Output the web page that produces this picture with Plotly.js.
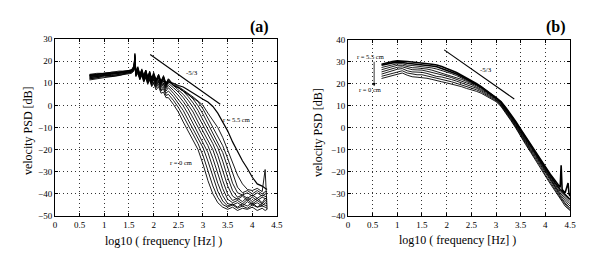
<!DOCTYPE html>
<html><head><meta charset="utf-8">
<script src="https://cdn.plot.ly/plotly-3.0.1.min.js"></script>
<style>html,body{margin:0;padding:0;background:#fff}#plot{width:609px;height:273px}</style>
</head><body><div id="plot"></div>
<script>
// ---------- Panel (a) ----------
const xa = [0.7,0.85,1.0,1.15,1.3,1.45,1.55,1.6,1.62,1.64,1.68,1.72,1.76,1.8,1.84,1.88,1.92,1.96,2.0,2.05,2.1,2.15,2.2,2.25,2.3,
            2.4,2.5,2.6,2.7,2.8,2.9,3.0,3.1,3.2,3.3,3.4,3.5,3.6,3.7,3.8,3.9,4.0,4.1,4.2,4.26,4.3];
const a_r0  = [11.5,12,12.5,13,13.5,14,14.5,15.5,18,13,14.5,11.5,13.5,10.5,12.5,9.5,11.5,8.5,10,7,8.5,5.5,6,3.5,3.5,
               0.5,-3,-7.5,-11.5,-15.5,-20,-26.5,-34,-40,-44,-46,-47,-46,-47.5,-46.5,-47,-46,-47.5,-46.5,-47.5,-47];
const a_r1  = [12,12.5,13,13,13.5,14.5,15,16,19,13.5,15,12,14,11,13,10,12,9,10.5,8,9.5,6.5,7.5,4.5,5,
               2.3,-0.9,-4.8,-9.1,-13.1,-17.3,-22.6,-29.5,-36.4,-41.6,-44.8,-46,-45,-46.5,-45.5,-46.5,-45,-46,-45.5,-46,-46.5];
const a_r2  = [12,12.5,13.5,13.5,14,14.5,15,16,20,13.5,15.5,12,14.5,11,13.5,10.5,12.5,9.5,11.5,8.5,10.5,7,8.5,5.5,6.5,
               4,1.1,-2.3,-6.6,-10.7,-14.7,-19.1,-25.2,-32.5,-38.8,-43.2,-45.5,-44.5,-46,-44.5,-45.5,-44,-46,-44.5,-45,-45.5];
const a_r3  = [12.5,13,13.5,13.5,14,14.5,15,16.5,21,14,15.5,12.5,14.5,11.5,14,11,13,10,12,9,11,8,9.5,6.5,8,
               5.5,2.9,-0.2,-3.9,-8.3,-12.3,-16.4,-21.3,-28,-35.2,-40.8,-44.4,-45,-44,-45.5,-43.5,-45,-44,-45.5,-44,-44.5];
const a_r4  = [12.5,13,13.5,14,14.5,15,15.5,16.5,22,14,16,12.5,15,12,14.5,11.5,13.5,10.5,12.5,9.5,11.5,8.5,10,7.5,9,
               6.8,4.5,1.7,-1.6,-5.7,-9.9,-13.9,-18.2,-23.9,-31,-37.6,-42.4,-44,-43,-44.5,-42.5,-44.5,-43,-44.5,-43,-43.5];
const a_r5  = [13,13,14,14,14.5,15,15.5,17,23,14.5,16,13,15,12,15,11.5,14,11,13,10,12.5,9,11,8,10,
               8,6,3.5,0.5,-3,-7.5,-11.5,-15.5,-20,-26.5,-34,-40,-43,-42,-43.5,-41.5,-43.5,-42,-44,-42,-42.5];
const a_r6  = [13,13.5,14,14.5,14.5,15,15.5,17,23.5,14.5,16.5,13,15.5,12.5,15,12,14.5,11,13.5,10.5,13,9.5,12,8.5,11,
               9,7.2,5,2.3,-0.9,-4.8,-9.1,-13.1,-17.3,-22.6,-29.5,-36.4,-41,-42.5,-41,-43,-41.5,-43,-41.5,-42,-42.5];
const a_r7  = [13.5,13.5,14,14.5,15,15,16,17,22.5,15,16.5,13.5,15.5,12.5,15.5,12,14.5,11.5,14,11,13,10,12.5,9,11,
               9,8,6.4,4,1.1,-2.3,-6.6,-10.7,-14.7,-19.1,-25.2,-32.5,-38.5,-41.5,-40.5,-42,-40.5,-42,-40.5,-41,-41.5];
const a_r8  = [13.5,14,14.5,14.5,15,15.5,16,17.5,21.5,15,17,13.5,16,13,15.5,12.5,15,11.5,14,11,13.5,10,13,9.5,11.5,
               9,8,6.5,5,2.9,-0.2,-3.9,-8.3,-12.3,-16.4,-21.3,-28,-35.2,-39.5,-40.5,-39.5,-41,-39.5,-41,-40,-40];
const a_r9  = [14,14,14.5,15,15,15.5,16,17.5,20.5,15.5,17,14,16,13,16,12.5,15,12,14.5,11.5,14,10.5,13,9.5,12,
               9,8,6.5,5,3.5,1.7,-1.6,-5.7,-9.9,-13.9,-18.2,-23.9,-31,-37,-39.5,-38.5,-40,-38.5,-40,-39,-39];
const a_r10 = [14,14.5,14.5,15,15.5,15.5,16,18,20,15.5,17.5,14,16.5,13.5,16,13,15.5,12,15,11.5,14,11,13.5,10,12,
               9.5,8.5,7,5.5,3.8,2,0,-3.5,-6.5,-10,-14.5,-20,-26,-31.5,-35.5,-38,-38.5,-37.5,-39,-29,-47];
const a_r11 = [13.5,14,14.5,14.5,15,15.5,15.5,16.5,19,15,15,14.5,14.5,14,13.5,13.5,13,13,12.5,12,12,11.5,11,10.5,10.5,
               10,9,8.3,7,5.5,4,2.8,1.5,-0.5,-3.5,-7.5,-11.5,-16.5,-21,-25,-28.5,-32.5,-35.5,-36.5,-37.5,-38];
const seriesA = [a_r0,a_r1,a_r2,a_r3,a_r4,a_r5,a_r6,a_r7,a_r8,a_r9,a_r10,a_r11];
const slopeA_x = [1.93, 3.35];
const slopeA_y = [23, 0.5];

// ---------- Panel (b) ----------
const xb = [0.68,0.8,0.9,1.0,1.1,1.2,1.3,1.4,1.5,1.6,1.7,1.8,1.9,2.0,2.1,2.2,2.3,2.4,2.5,2.6,2.7,2.8,2.9,3.0,
            3.1,3.2,3.3,3.4,3.5,3.6,3.7,3.8,3.9,4.0,4.1,4.2,4.3,4.32,4.34,4.4,4.46,4.48,4.5];
const b_r7 = [29,29.8,30.2,30.5,30.5,30.2,30,29.8,29.5,29.3,29,28.6,28,27,26.2,25.2,24,22.8,21.5,20.2,18.8,17.2,15.6,14,
              12,9.2,6.2,3,-0.5,-4,-7.5,-10.5,-14,-17.5,-21,-24,-27,-17,-28,-29.5,-25,-30,-31];
const b_r6 = [28.5,29.2,29.6,29.8,29.8,29.4,29.2,29,28.8,28.5,28.2,27.8,27,26.2,25.5,24.5,23.4,22.3,21.2,19.9,18.6,17,15.4,13.8,
              11.7,8.8,5.8,2.5,-1,-4.5,-8,-11,-14.5,-18.2,-21.8,-25,-28,-28.5,-29,-30.5,-31.5,-32,-32.5];
const b_r5 = [27.5,28.2,28.8,29.2,29.2,28.6,28.4,28.2,28,27.6,27.3,26.8,26.2,25.4,24.7,23.8,22.8,21.8,20.8,19.6,18.3,16.8,15.2,13.6,
              11.4,8.5,5.4,2,-1.5,-5,-8.5,-11.5,-15,-18.8,-22.4,-25.8,-28.8,-29.3,-29.8,-31.5,-32.8,-33.2,-33.5];
const b_r4 = [26.5,27.3,28,28.5,28.5,27.8,27.4,27.3,27.2,26.8,26.3,25.6,25.2,24.5,23.8,23,22.1,21.2,20.3,19.2,18,16.5,14.9,13.4,
              11.1,8.2,5,1.6,-2,-5.5,-9,-12,-15.6,-19.4,-23,-26.5,-29.5,-30,-30.6,-32.2,-33.6,-34,-34.5];
const b_r3 = [25.5,26.4,27,27.6,27.8,27,26.5,26.4,26.3,25.8,25.3,24.5,24.2,23.6,22.9,22.2,21.3,20.5,19.7,18.7,17.5,16.1,14.6,13.1,
              10.8,7.9,4.6,1.2,-2.5,-6,-9.5,-12.6,-16.2,-20,-23.6,-27.2,-30.2,-30.8,-31.4,-33,-34.6,-35,-35.5];
const b_r2 = [24.5,25.4,26,26.7,27,26,25.5,25.4,25.3,24.8,24.2,23.4,23.2,22.7,22,21.3,20.5,19.7,19,18.1,17,15.7,14.2,12.8,
              10.5,7.6,4.2,0.8,-3,-6.5,-10,-13.2,-16.8,-20.6,-24.2,-27.8,-31,-31.6,-32.2,-34,-35.6,-36,-36.5];
const b_r1 = [23.5,24.3,25,25.6,26,25,24.5,24.2,24.2,23.7,23.2,22.4,22.1,21.6,21,20.3,19.6,18.9,18.3,17.4,16.4,15.1,13.7,12.4,
              10.2,7.2,3.8,0.4,-3.5,-7,-10.5,-13.8,-17.4,-21.2,-24.8,-28.4,-31.6,-32.2,-32.8,-34.8,-36.3,-36.7,-37];
const b_r0 = [22.5,23.2,23.8,24.3,25,24,23.3,23.1,23,22.6,22.1,21.4,21,20.5,20,19.4,18.8,18,17.5,16.7,15.8,14.5,13.2,12,
              9.8,6.8,3.4,0,-4,-7.5,-11,-14.4,-18,-21.8,-25.4,-29,-32.2,-32.8,-33.4,-35.5,-37,-37.3,-37.5];
const seriesB = [b_r0,b_r1,b_r2,b_r3,b_r4,b_r5,b_r6,b_r7];
const slopeB_x = [1.95, 3.37];
const slopeB_y = [35.5, 13.2];

const xTicks = [0,0.5,1,1.5,2,2.5,3,3.5,4,4.5];
const xTickText = ['0','0.5','1','1.5','2','2.5','3','3.5','4','4.5'];
const yTicksA = [-50,-40,-30,-20,-10,0,10,20,30];
const yTicksB = [-40,-30,-20,-10,0,10,20,30,40];

const SERIF = 'Liberation Serif, Times New Roman, serif';
const traces = [];
seriesA.forEach((y,i)=>traces.push({x:xa,y:y,type:'scatter',mode:'lines',xaxis:'x',yaxis:'y',
  line:{color:'#000',width:(i===seriesA.length-1?1.2:0.9)},hoverinfo:'skip'}));
traces.push({x:slopeA_x,y:slopeA_y,type:'scatter',mode:'lines',xaxis:'x',yaxis:'y',line:{color:'#000',width:1.1}});
seriesB.forEach((y,i)=>traces.push({x:xb,y:y,type:'scatter',mode:'lines',xaxis:'x2',yaxis:'y2',
  line:{color:'#000',width:(i>=6?1.6:0.9)},hoverinfo:'skip'}));
traces.push({x:slopeB_x,y:slopeB_y,type:'scatter',mode:'lines',xaxis:'x2',yaxis:'y2',line:{color:'#000',width:1.1}});

function axis(extra){
  return Object.assign({showline:true,linecolor:'#000',linewidth:1,mirror:'ticks',ticks:'inside',ticklen:3,
    tickcolor:'#000',showgrid:true,gridcolor:'#333',griddash:'1px,3px',gridwidth:1,zeroline:false,
    tickfont:{family:SERIF,size:9,color:'#000'},fixedrange:true},extra);
}
function note(o){ return Object.assign({showarrow:false,xanchor:'center',yanchor:'middle'},o); }
const layout = {
  width:609,height:273,margin:{l:0,r:0,t:0,b:0},showlegend:false,
  paper_bgcolor:'#fff',plot_bgcolor:'#fff',
  xaxis: axis({domain:[0.0903,0.4548],range:[0,4.5],tickvals:xTicks,ticktext:xTickText,anchor:'y'}),
  yaxis: axis({domain:[0.2088,0.857],range:[-50,30],tickvals:yTicksA,anchor:'x'}),
  xaxis2: axis({domain:[0.5714,0.936],range:[0,4.5],tickvals:xTicks,ticktext:xTickText,anchor:'y2'}),
  yaxis2: axis({domain:[0.2088,0.8535],range:[-40,40],tickvals:yTicksB,anchor:'x2'}),
  annotations:[
    note({xref:'paper',yref:'paper',x:0.268,y:0.119,text:'log10 ( frequency [Hz] )',font:{family:SERIF,size:12,color:'#000'}}),
    note({xref:'paper',yref:'paper',x:0.751,y:0.122,text:'log10 ( frequency [Hz] )',font:{family:SERIF,size:12,color:'#000'}}),
    note({xref:'paper',yref:'paper',x:0.046,y:0.52,text:'velocity PSD [dB]',textangle:-90,font:{family:SERIF,size:12,color:'#000'}}),
    note({xref:'paper',yref:'paper',x:0.522,y:0.516,text:'velocity PSD [dB]',textangle:-90,font:{family:SERIF,size:12,color:'#000'}}),
    note({xref:'paper',yref:'paper',x:0.445,y:0.901,xanchor:'right',text:'<b>(a)</b>',font:{family:SERIF,size:16,color:'#000'}}),
    note({xref:'paper',yref:'paper',x:0.932,y:0.901,xanchor:'right',text:'<b>(b)</b>',font:{family:SERIF,size:16,color:'#000'}}),
    note({xref:'x',yref:'y',x:2.78,y:14.6,text:'-5/3',font:{family:SERIF,size:7,color:'#000'}}),
    note({xref:'x',yref:'y',x:3.68,y:-6.5,text:'r = 5.5 cm',font:{family:SERIF,size:6.5,color:'#000'}}),
    note({xref:'x',yref:'y',x:2.55,y:-26,text:'r = 0 cm',font:{family:SERIF,size:6.5,color:'#000'}}),
    note({xref:'x2',yref:'y2',x:2.8,y:26.4,text:'-5/3',font:{family:SERIF,size:7,color:'#000'}}),
    note({xref:'x2',yref:'y2',x:0.45,y:32.4,text:'r = 5.5 cm',font:{family:SERIF,size:6.5,color:'#000'}}),
    note({xref:'x2',yref:'y2',x:0.45,y:17.3,text:'r = 0 cm',font:{family:SERIF,size:6.5,color:'#000'}}),
    {xref:'x2',yref:'y2',x:0.53,y:19,axref:'x2',ayref:'y2',ax:0.53,ay:30.8,text:'',showarrow:true,arrowhead:2,arrowsize:0.8,arrowwidth:0.8,arrowcolor:'#000'}
  ]
};
Plotly.newPlot('plot',traces,layout,{staticPlot:true,displayModeBar:false});
</script></body></html>
